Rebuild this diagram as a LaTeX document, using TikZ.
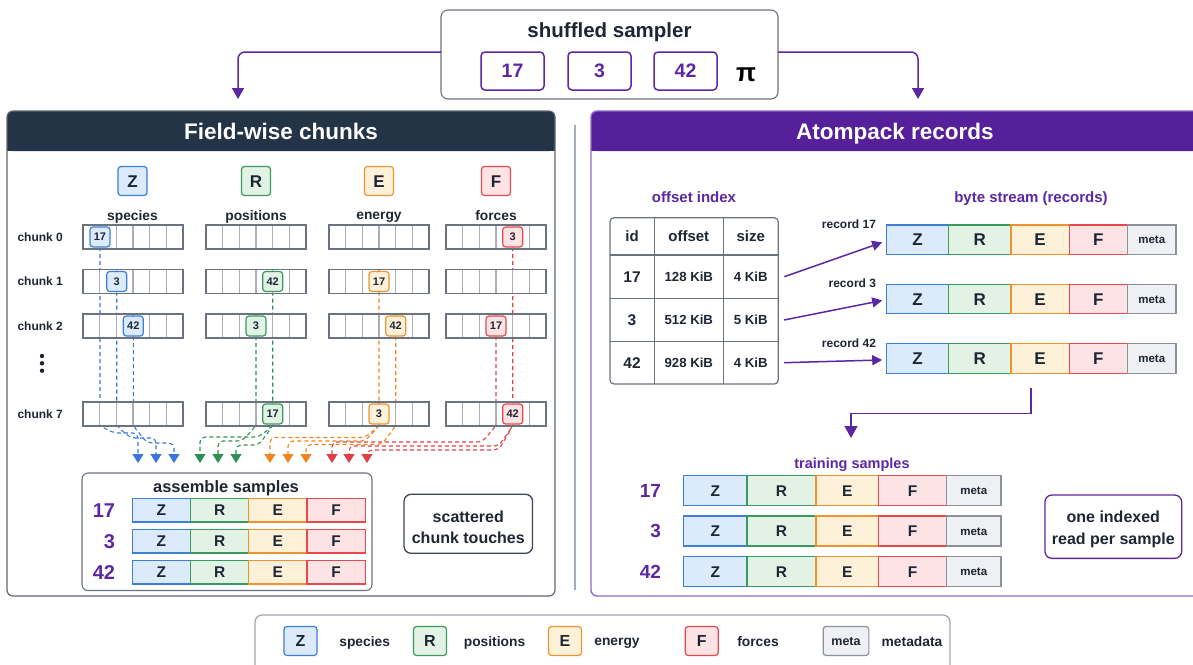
\documentclass[tikz,border=0pt]{standalone}
\usepackage{fontspec}
\setmainfont{Liberation Sans}
\usetikzlibrary{arrows.meta,calc}
\pgfdeclarelayer{bg}
\pgfsetlayers{bg,main}
\definecolor{txt}{HTML}{1E2633}
\definecolor{purp}{HTML}{5B27A3}
\definecolor{purpH}{HTML}{55209A}
\definecolor{purpL}{HTML}{8E6CC8}
\definecolor{navy}{HTML}{243447}
\definecolor{gbox}{HTML}{6B7280}
\definecolor{lborder}{HTML}{5F6672}
\definecolor{dbox}{HTML}{3B4556}
\definecolor{lgray}{HTML}{A0A4AB}
\definecolor{cline}{HTML}{A9AFBA}
\definecolor{sepc}{HTML}{A3AEC2}
\definecolor{Zf}{HTML}{DCEBFC}\definecolor{Zd}{HTML}{3B7FD9}
\definecolor{Rf}{HTML}{E2F3E6}\definecolor{Rd}{HTML}{3A9A5E}
\definecolor{Ef}{HTML}{FEF1DA}\definecolor{Ed}{HTML}{F0922E}
\definecolor{Ff}{HTML}{FDE3E4}\definecolor{Fd}{HTML}{E5484D}
\definecolor{Mf}{HTML}{EEF0F4}\definecolor{Md}{HTML}{8C919A}
\definecolor{dZ}{HTML}{3577DA}
\definecolor{dR}{HTML}{2F8F52}
\definecolor{dE}{HTML}{F0841E}
\definecolor{dF}{HTML}{DE4046}
\newcommand\fsz[1]{\fontsize{#1}{#1}\selectfont\rule{0pt}{0.716em}}
\newcommand\route[5]{%
  \path (0,#3) coordinate (hl);
  \draw[dline, draw=#4, fill=none, rounded corners=5, -{Triangle[width=11pt,length=9pt,fill=#4]}]
    (#1.south) -- (#1.south |- h426) -- ($(#1.south |- hl)+(#5,0)$) -- (#2 |- hl) -- (#2);}
\tikzset{
  every node/.style={inner sep=0pt, outer sep=0pt, text depth=0pt},
  multi/.style={text depth=, align=center},
  fc/.style={draw=#1d, fill=#1f},
  fieldbox/.style={minimum width=29, minimum height=29, rounded corners=3, line width=1.2, font=\bfseries\fsz{17}, text=txt},
  mk/.style={minimum width=20, minimum height=20, rounded corners=3, line width=1.2, font=\bfseries\fsz{11}, text=txt},
  strip/.style={fill=white, minimum width=100, minimum height=24},
  cellline/.style={draw=cline, line width=1.2},
  stripborder/.style={draw=gbox, line width=1.1},
  dline/.style={line width=1.1, dash pattern=on 4pt off 3pt},
  acell/.style={line width=1.2, font=\bfseries\fsz{15.5}, text=txt},
  rcell/.style={line width=1.3, font=\bfseries\fsz{17}, text=txt},
  pbox/.style={draw=purp, line width=1.5, rounded corners=4, minimum width=63, minimum height=38, font=\bfseries\fsz{19.5}, text=purp},
  parrow/.style={draw=purp, line width=1.5, -{Triangle[width=12pt,length=11pt]}},
  tarrow/.style={draw=purp, line width=1.5, -{Triangle[width=10pt,length=10pt]}},
  tline/.style={draw=gbox, line width=1.1},
  ttxt/.style={text=txt},
  lbl/.style={font=\bfseries\fsz{13.8}, text=txt},
}
\begin{document}
\begin{tikzpicture}[x=1pt,y=-1pt]
\useasboundingbox (0,0) rectangle (1193,664);
\clip (0,0) rectangle (1193,664);
\coordinate (h426) at (0,426);

% ---------- shuffled sampler ----------
\node[draw=gbox, line width=1.1, rounded corners=7, minimum width=337, minimum height=89, anchor=north west, fill=white] (sampler) at (441,10) {};
\node[font=\bfseries\fsz{20.5}, text=txt] (stitle) at (609.5,30) {shuffled sampler};
\node[pbox] (p17) at (512.5,71) {17};
\node[pbox] (p3) at (599.5,71) {3};
\node[pbox] (p42) at (685.5,71) {42};
\node[font=\bfseries\fsz{26}, text=black] (pi) at (746,72) {π};
\coordinate (la) at (238,99);
\coordinate (ra) at (918,99);
\draw[parrow, rounded corners=7] ([yshift=2.5pt]sampler.west) -| (la);
\draw[parrow, rounded corners=7] ([yshift=2.5pt]sampler.east) -| (ra);

% ---------- left panel ----------
\fill[navy, rounded corners=6] (7,111) rectangle (555,151);
\fill[navy] (7,135) rectangle (555,151);
\draw[lborder, line width=1.2, rounded corners=6] (7,111) rectangle (555,596);
\node[font=\bfseries\fsz{22.5}, text=white] (ltitle) at (281,131) {Field-wise chunks};

\draw[sepc, line width=1.2] (575,125) -- (575,590);

% ---------- right panel ----------
\fill[purpH, rounded corners=6] (591,111) rectangle (1199,151);
\fill[purpH] (591,135) rectangle (1199,151);
\draw[purpL, line width=1.4, rounded corners=6] (591,111) rectangle (1199,596);
\node[font=\bfseries\fsz{22.5}, text=white] (rtitle) at (895,131) {Atompack records};

% ---------- field headers ----------
\foreach \f/\x/\lab in {Z/132.5/species, R/256/positions, E/379/energy, F/496/forces} {
  \node[fieldbox, fc=\f] (f\f) at (\x,181) {\f};
  \node[font=\bfseries\fsz{13.8}, text=txt] (fl\f) at (\x,215) {\lab};
}

% ---------- chunk labels ----------
\foreach \i/\y in {0/237, 1/281.5, 2/326, 7/414}
  \node[anchor=west, font=\bfseries\fsz{12}, text=txt] (cl\i) at (17.5,\y) {chunk \i};
\fill[txt] (42,356) circle (2.2);
\fill[txt] (42,363.3) circle (2.2);
\fill[txt] (42,370.7) circle (2.2);

% ---------- strips ----------
\foreach \x [count=\c] in {83,206,329,446} {
  \foreach \y [count=\r] in {225,269.5,314,402} {
    \node[strip, anchor=north west] (s\c-\r) at (\x,\y) {};
    \foreach \k in {1,...,5} \draw[cellline] (\x+\k*16.667,\y) -- (\x+\k*16.667,\y+24);
    \draw[stripborder] (s\c-\r.north west) rectangle (s\c-\r.south east);
  }
}

% ---------- markers ----------
\node[mk, fc=Z] (mZ17) at (100,237) {17};
\node[mk, fc=Z] (mZ3) at (116.7,281.5) {3};
\node[mk, fc=Z] (mZ42) at (133.3,326) {42};
\node[mk, fc=R] (mR42) at (272.7,281.5) {42};
\node[mk, fc=R] (mR3) at (256,326) {3};
\node[mk, fc=R] (mR17) at (272.7,414) {17};
\node[mk, fc=E] (mE17) at (379,281.5) {17};
\node[mk, fc=E] (mE42) at (395.7,326) {42};
\node[mk, fc=E] (mE3) at (379,414) {3};
\node[mk, fc=F] (mF3) at (512.7,237) {3};
\node[mk, fc=F] (mF17) at (496,326) {17};
\node[mk, fc=F] (mF42) at (512.7,414) {42};

% arrow targets
\coordinate (aZ1) at (138,463);\coordinate (aZ2) at (156,463);\coordinate (aZ3) at (174,463);
\coordinate (aR1) at (200,463);\coordinate (aR2) at (218,463);\coordinate (aR3) at (236,463);
\coordinate (aE1) at (270,463);\coordinate (aE2) at (288,463);\coordinate (aE3) at (306,463);
\coordinate (aF1) at (332,463);\coordinate (aF2) at (349,463);\coordinate (aF3) at (367,463);

\begin{pgfonlayer}{bg}
\route{mZ17}{aZ1}{433}{dZ}{14}
\route{mZ3}{aZ2}{438}{dZ}{14}
\route{mZ42}{aZ3}{443}{dZ}{14}
\route{mR17}{aR1}{437}{dR}{-14}
\route{mR3}{aR2}{441}{dR}{-14}
\route{mR42}{aR3}{445}{dR}{-14}
\route{mE17}{aE1}{437.5}{dE}{-14}
\route{mE3}{aE2}{441}{dE}{-14}
\route{mE42}{aE3}{444.5}{dE}{-14}
\route{mF17}{aF1}{442}{dF}{-14}
\route{mF3}{aF2}{446}{dF}{-14}
\route{mF42}{aF3}{450}{dF}{-14}
\end{pgfonlayer}

% ---------- assemble samples ----------
\node[draw=gbox, line width=1.1, rounded corners=6, minimum width=290, minimum height=117.5, anchor=north west] (asm) at (82,473) {};
\node[font=\bfseries\fsz{16.5}, text=txt] (asmt) at (226,487) {assemble samples};
\foreach \id/\y [count=\r] in {17/498.5, 3/529.5, 42/560.5} {
  \node[anchor=east, font=\bfseries\fsz{20}, text=purp] (al\r) at (115,\y+11.75) {\id};
  \foreach \f/\x in {Z/132.3, R/190.5, E/248.7, F/307}
    \node[acell, fc=\f, minimum width=58.2, minimum height=23.5, anchor=north west] (a\r\f) at (\x,\y) {\f};
}
\node[draw=dbox, line width=1.3, rounded corners=7, minimum width=128.5, minimum height=59] (scat) at (468.3,523.8) {};
\node[multi, font=\bfseries\fontsize{16}{21}\selectfont, text=txt] (scatt) at (468.3,527) {scattered\\chunk touches};

% ---------- offset index ----------
\node[font=\bfseries\fsz{15}, text=purp] (oit) at (694,197) {offset index};
\node[draw=gbox, line width=1.2, rounded corners=4, minimum width=168.3, minimum height=166.3, anchor=north west] (tbl) at (610,217.7) {};
\draw[tline] (654.3,217.7) -- (654.3,384);
\draw[tline] (723.3,217.7) -- (723.3,384);
\draw[tline] (610,255) -- (778.3,255);
\draw[tline] (610,298.3) -- (778.3,298.3);
\draw[tline] (610,341.7) -- (778.3,341.7);
\node[ttxt, font=\bfseries\fsz{15}] (th1) at (632,236) {id};
\node[ttxt, font=\bfseries\fsz{15}] (th2) at (688.8,236) {offset};
\node[ttxt, font=\bfseries\fsz{15}] (th3) at (750.8,236) {size};
\foreach \id/\off/\sz/\y [count=\r] in {17/128 KiB/4 KiB/276.7, 3/512 KiB/5 KiB/320, 42/928 KiB/4 KiB/362.8} {
  \node[ttxt, font=\bfseries\fsz{15.5}] (tid\r) at (632,\y) {\id};
  \node[ttxt, font=\bfseries\fsz{13.2}] (toff\r) at (688.8,\y) {\off};
  \node[ttxt, font=\bfseries\fsz{13.2}] (tsz\r) at (750.8,\y) {\sz};
}

% ---------- byte stream ----------
\node[font=\bfseries\fsz{15}, text=purp] (bst) at (1031,196.7) {byte stream (records)};
\foreach \y/\id [count=\r] in {225/17, 284.3/3, 343.7/42} {
  \foreach \f/\x/\w in {Z/886.7/61.8, R/948.5/62.5, E/1011/58.3, F/1069.3/58.2}
    \node[rcell, fc=\f, minimum width=\w, minimum height=29.5, anchor=north west] (r\r-\f) at (\x,\y) {\f};
  \node[rcell, fc=M, minimum width=48.5, minimum height=29.5, anchor=north west, font=\bfseries\fsz{11.5}] (r\r-M) at (1127.5,\y) {meta};
  \node[anchor=east, font=\bfseries\fsz{12}, text=txt] (rl\r) at (876,\y-0.7) {record \id};
}
\coordinate (ta1) at (784.3,276.7);
\coordinate (ta2) at (784,320);
\coordinate (ta3) at (784,362.7);
\draw[tarrow] (ta1) -- ($(r1-Z.west)+(-4.5,2.6)$);
\draw[tarrow] (ta2) -- ($(r2-Z.west)+(-4.5,1.4)$);
\draw[tarrow] (ta3) -- ($(r3-Z.west)+(-4.5,1.5)$);

\coordinate (bs) at (1031,388);
\coordinate (tsa) at (851,438);
\draw[purp, line width=1.5, -{Triangle[width=13pt,length=12pt]}] (bs) -- ++(0,25.5) -| (tsa);

% ---------- training samples ----------
\node[font=\bfseries\fsz{14.5}, text=purp] (tst) at (852,463) {training samples};
\foreach \id/\y [count=\r] in {17/475.7, 3/516, 42/556.7} {
  \node[anchor=east, font=\bfseries\fsz{19}, text=purp] (tl\r) at (661,\y+15) {\id};
  \foreach \f/\x/\w in {Z/683.5/63.5, R/747/69, E/816/62.5, F/878.5/68}
    \node[acell, fc=\f, minimum width=\w, minimum height=30, anchor=north west] (t\r-\f) at (\x,\y) {\f};
  \node[acell, fc=M, minimum width=54.5, minimum height=30, anchor=north west, font=\bfseries\fsz{11.5}] (t\r-M) at (946.5,\y) {meta};
}
\node[draw=purp, line width=1.3, rounded corners=7, minimum width=136.7, minimum height=63.3] (oneidx) at (1113.3,526.7) {};
\node[multi, font=\bfseries\fontsize{16}{22}\selectfont, text=txt] (oneidxt) at (1113.3,529.7) {one indexed\\read per sample};

% ---------- legend ----------
\node[draw=lgray, line width=1.2, rounded corners=7, minimum width=695, minimum height=60, anchor=north west] (leg) at (255,615) {};
\node[fc=Z, line width=1.2, rounded corners=3, minimum width=33, minimum height=29, font=\bfseries\fsz{16}, text=txt] (lZ) at (300.5,641) {Z};
\node[lbl] (lZt) at (364.7,641) {species};
\node[fc=R, line width=1.2, rounded corners=3, minimum width=33, minimum height=29, font=\bfseries\fsz{16}, text=txt] (lR) at (430,641) {R};
\node[lbl] (lRt) at (494.5,641) {positions};
\node[fc=E, line width=1.2, rounded corners=3, minimum width=33, minimum height=29, font=\bfseries\fsz{16}, text=txt] (lE) at (565,641) {E};
\node[lbl] (lEt) at (617,641) {energy};
\node[fc=F, line width=1.2, rounded corners=3, minimum width=33, minimum height=29, font=\bfseries\fsz{16}, text=txt] (lF) at (701.7,641) {F};
\node[lbl] (lFt) at (758,641) {forces};
\node[fc=M, line width=1.2, rounded corners=3, minimum width=45.7, minimum height=29, font=\bfseries\fsz{12.5}, text=txt] (lM) at (846,641) {meta};
\node[lbl] (lMt) at (912,641) {metadata};
\end{tikzpicture}
\end{document}
